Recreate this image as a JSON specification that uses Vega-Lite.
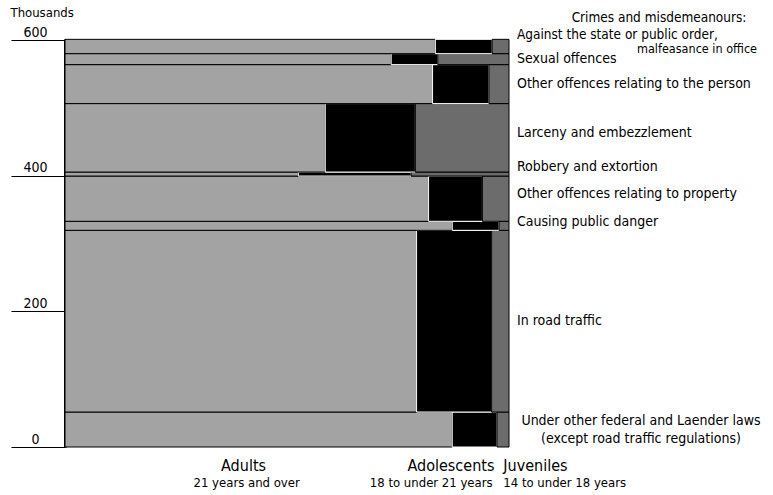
{
  "$schema": "https://vega.github.io/schema/vega-lite/v6.json",
  "width": 444,
  "height": 408,
  "autosize": "none",
  "padding": {"left": 65, "top": 39, "right": 264, "bottom": 48},
  "background": "white",
  "config": {
    "view": {"stroke": null},
    "font": "'DejaVu Sans Condensed', 'Liberation Sans Narrow', 'Roboto Condensed', sans-serif",
    "text": {"font": "'DejaVu Sans Condensed', 'Liberation Sans Narrow', 'Roboto Condensed', sans-serif", "color": "black"},
    "axis": {"labelFont": "'DejaVu Sans Condensed', 'Liberation Sans Narrow', sans-serif", "titleFont": "'DejaVu Sans Condensed', 'Liberation Sans Narrow', sans-serif", "labelColor": "black", "titleColor": "black"}
  },
  "data": {
    "values": [
      {"category": "Under other federal and Laender laws", "corder": 1, "group": "Adults", "gorder": 1, "value": 45.0},
      {"category": "Under other federal and Laender laws", "corder": 1, "group": "Adolescents", "gorder": 2, "value": 5.2},
      {"category": "Under other federal and Laender laws", "corder": 1, "group": "Juveniles", "gorder": 3, "value": 1.4},
      {"category": "In road traffic", "corder": 2, "group": "Adults", "gorder": 1, "value": 212.3},
      {"category": "In road traffic", "corder": 2, "group": "Adolescents", "gorder": 2, "value": 45.3},
      {"category": "In road traffic", "corder": 2, "group": "Juveniles", "gorder": 3, "value": 10.5},
      {"category": "Causing public danger", "corder": 3, "group": "Adults", "gorder": 1, "value": 11.6},
      {"category": "Causing public danger", "corder": 3, "group": "Adolescents", "gorder": 2, "value": 1.4},
      {"category": "Causing public danger", "corder": 3, "group": "Juveniles", "gorder": 3, "value": 0.3},
      {"category": "Other offences relating to property", "corder": 4, "group": "Adults", "gorder": 1, "value": 54.7},
      {"category": "Other offences relating to property", "corder": 4, "group": "Adolescents", "gorder": 2, "value": 8.1},
      {"category": "Other offences relating to property", "corder": 4, "group": "Juveniles", "gorder": 3, "value": 4.0},
      {"category": "Robbery and extortion", "corder": 5, "group": "Adults", "gorder": 1, "value": 3.1},
      {"category": "Robbery and extortion", "corder": 5, "group": "Adolescents", "gorder": 2, "value": 1.5},
      {"category": "Robbery and extortion", "corder": 5, "group": "Juveniles", "gorder": 3, "value": 1.3},
      {"category": "Larceny and embezzlement", "corder": 6, "group": "Adults", "gorder": 1, "value": 59.2},
      {"category": "Larceny and embezzlement", "corder": 6, "group": "Adolescents", "gorder": 2, "value": 20.5},
      {"category": "Larceny and embezzlement", "corder": 6, "group": "Juveniles", "gorder": 3, "value": 21.3},
      {"category": "Other offences relating to the person", "corder": 7, "group": "Adults", "gorder": 1, "value": 47.6},
      {"category": "Other offences relating to the person", "corder": 7, "group": "Adolescents", "gorder": 2, "value": 7.3},
      {"category": "Other offences relating to the person", "corder": 7, "group": "Juveniles", "gorder": 3, "value": 2.6},
      {"category": "Sexual offences", "corder": 8, "group": "Adults", "gorder": 1, "value": 11.9},
      {"category": "Sexual offences", "corder": 8, "group": "Adolescents", "gorder": 2, "value": 1.7},
      {"category": "Sexual offences", "corder": 8, "group": "Juveniles", "gorder": 3, "value": 2.6},
      {"category": "Against the state or public order,", "corder": 9, "group": "Adults", "gorder": 1, "value": 17.6},
      {"category": "Against the state or public order,", "corder": 9, "group": "Adolescents", "gorder": 2, "value": 2.7},
      {"category": "Against the state or public order,", "corder": 9, "group": "Juveniles", "gorder": 3, "value": 0.8}
    ]
  },
  "transform": [
    {"stack": "value", "groupby": [], "sort": [{"field": "corder"}, {"field": "gorder"}], "as": ["c0", "c1"]},
    {"joinaggregate": [{"op": "min", "field": "c0", "as": "ylo"}, {"op": "max", "field": "c1", "as": "yhi"}], "groupby": ["corder"]},
    {"stack": "value", "groupby": ["corder"], "sort": [{"field": "gorder"}], "offset": "normalize", "as": ["x0", "x1"]}
  ],
  "resolve": {"axis": {"x": "independent"}},
  "layer": [
    {
      "mark": {"type": "rect", "strokeWidth": 1},
      "encoding": {
        "x": {
          "field": "x0", "type": "quantitative",
          "scale": {"domain": [0, 1], "nice": false, "zero": false},
          "axis": {
            "orient": "bottom",
            "values": [0.401, 0.966, 0.986],
            "labelExpr": "datum.value < 0.5 ? 'Adults' : (datum.value < 0.975 ? 'Adolescents' : 'Juveniles')",
            "labelAlign": {"expr": "datum.value < 0.5 ? 'center' : (datum.value < 0.975 ? 'right' : 'left')"},
            "domain": false, "ticks": false, "tickSize": 0, "grid": false,
            "labelFontSize": 16, "labelPadding": 23, "labelBaseline": "alphabetic",
            "labelOverlap": false, "labelFlush": false, "title": null
          }
        },
        "x2": {"field": "x1"},
        "y": {
          "field": "ylo", "type": "quantitative",
          "scale": {"domain": [0, 602], "nice": false},
          "axis": {
            "values": [0, 200, 400, 600],
            "grid": false,
            "domain": true, "domainColor": "black", "domainWidth": 3,
            "ticks": true, "tickColor": "black", "tickSize": 54, "tickWidth": 1,
            "labelPadding": -24, "labelAlign": "center", "labelBaseline": "alphabetic", "labelOffset": -4,
            "labelFontSize": 14,
            "title": "Thousands", "titleAngle": 0, "titleAlign": "left", "titleBaseline": "alphabetic",
            "titleX": -55, "titleY": -23, "titleFontSize": 13, "titleFontWeight": "normal"
          }
        },
        "y2": {"field": "yhi"},
        "fill": {
          "field": "group", "type": "nominal",
          "scale": {"domain": ["Adults", "Adolescents", "Juveniles"], "range": ["#a3a3a3", "#000000", "#6c6c6c"]},
          "legend": null
        },
        "stroke": {
          "field": "group", "type": "nominal",
          "scale": {"domain": ["Adults", "Adolescents", "Juveniles"], "range": ["#000000", "#ffffff", "#000000"]},
          "legend": null
        }
      }
    },
    {
      "mark": {"type": "tick", "opacity": 0},
      "encoding": {
        "x": {
          "field": "x0", "type": "quantitative",
          "axis": {
            "orient": "bottom",
            "values": [0.408, 0.962, 0.986],
            "labelExpr": "datum.value < 0.5 ? '21 years and over' : (datum.value < 0.975 ? '18 to under 21 years' : '14 to under 18 years')",
            "labelAlign": {"expr": "datum.value < 0.5 ? 'center' : (datum.value < 0.975 ? 'right' : 'left')"},
            "domain": false, "ticks": false, "tickSize": 0, "grid": false,
            "labelFontSize": 13, "labelPadding": 39, "labelBaseline": "alphabetic",
            "labelOverlap": false, "labelFlush": false, "title": null
          }
        }
      }
    },
    {
      "transform": [
        {"fold": ["ylo", "yhi"], "as": ["k", "v"]},
        {"aggregate": [{"op": "mean", "field": "v", "as": "mid"}], "groupby": ["category", "corder"]}
      ],
      "layer": [
        {
          "transform": [{"filter": "datum.corder >= 2 && datum.corder <= 8"}],
          "mark": {
            "type": "text", "align": "left", "baseline": "middle", "dx": 8, "fontSize": 14,
            "dy": {"expr": "datum.corder == 6 ? -5 : (datum.corder == 5 ? -7 : (datum.corder == 4 ? -5 : (datum.corder == 3 ? -4 : 0)))"}
          },
          "encoding": {
            "x": {"datum": 1, "type": "quantitative", "axis": null},
            "y": {"field": "mid", "type": "quantitative"},
            "text": {"field": "category"}
          }
        },
        {
          "transform": [{"filter": "datum.corder == 9"}],
          "mark": {"type": "text", "align": "left", "baseline": "middle", "dx": 8, "dy": -11, "fontSize": 13.5},
          "encoding": {
            "x": {"datum": 1, "type": "quantitative", "axis": null},
            "y": {"field": "mid", "type": "quantitative"},
            "text": {"field": "category"}
          }
        },
        {
          "transform": [{"filter": "datum.corder == 9"}],
          "mark": {"type": "text", "align": "right", "baseline": "middle", "dx": 248, "dy": 3, "fontSize": 12.5},
          "encoding": {
            "x": {"datum": 1, "type": "quantitative", "axis": null},
            "y": {"field": "mid", "type": "quantitative"},
            "text": {"value": "malfeasance in office"}
          }
        },
        {
          "transform": [{"filter": "datum.corder == 1"}],
          "mark": {"type": "text", "align": "center", "baseline": "middle", "dx": 132, "dy": -9, "fontSize": 14, "lineHeight": 18},
          "encoding": {
            "x": {"datum": 1, "type": "quantitative", "axis": null},
            "y": {"field": "mid", "type": "quantitative"},
            "text": {"value": ["Under other federal and Laender laws", "(except road traffic regulations)"]}
          }
        },
        {
          "transform": [{"filter": "datum.corder == 9"}],
          "mark": {"type": "text", "align": "center", "baseline": "middle", "dx": 150, "dy": -28, "fontSize": 13.5},
          "encoding": {
            "x": {"datum": 1, "type": "quantitative", "axis": null},
            "y": {"field": "mid", "type": "quantitative"},
            "text": {"value": "Crimes and misdemeanours:"}
          }
        }
      ]
    }
  ]
}
